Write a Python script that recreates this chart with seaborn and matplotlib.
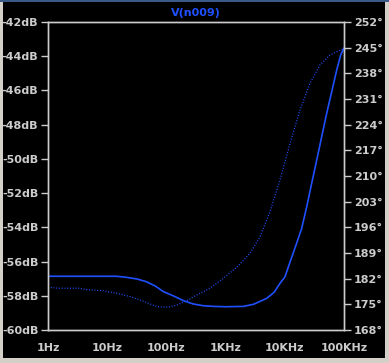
import numpy as np
import pandas as pd
import matplotlib
matplotlib.use("Agg")
import matplotlib.pyplot as plt
import seaborn as sns
from matplotlib.patches import Rectangle
from matplotlib.ticker import FixedLocator, NullFormatter

# ---- data ----
mag_freq = [1, 10, 14.5, 21, 32, 46, 65, 89, 132, 195, 285, 417, 617, 1000, 2000,
            2950, 4940, 6600, 8300, 10070, 12250, 15850, 19280, 23440, 28440, 34600,
            42000, 51000, 62000, 75300, 87900, 100000]
mag_db = [-56.86, -56.86, -56.86, -56.92, -57.02, -57.18, -57.43, -57.76, -58.01,
          -58.29, -58.48, -58.58, -58.62, -58.64, -58.62, -58.50, -58.15, -57.80,
          -57.27, -56.89, -56.03, -54.93, -54.06, -52.80, -51.43, -50.07, -48.70,
          -47.34, -46.07, -44.81, -43.93, -43.52]

ph_freq = [1, 1.5, 3.5, 3.9, 8.6, 14.5, 24.3, 35.8, 52.8, 68.5, 107.6, 149, 220, 325,
           545, 914, 1640, 2600, 3810, 5620, 8300, 12250, 18070, 26670, 39400, 58100,
           75300, 100000]
ph_deg = [179.65, 179.4, 179.4, 179.1, 178.7, 178.0, 177.1, 176.2, 175.1, 174.4,
          174.2, 174.8, 176.0, 177.55, 179.4, 182.1, 185.5, 189.0, 193.4, 200.3, 208.9,
          218.9, 228.0, 235.3, 240.3, 243.0, 243.9, 244.8]

x_ticks = [1, 10, 100, 1000, 10000, 100000]
x_labels = ["1Hz", "10Hz", "100Hz", "1KHz", "10KHz", "100KHz"]
db_ticks = list(range(-60, -41, 2))
deg_ticks = list(range(168, 253, 7))
title = "V(n009)"

# ---- style ----
W, H = 389, 363
fg = "#cccccc"
blue = "#1f50ff"
sns.set_style("dark")
plt.rcParams["font.family"] = ["DejaVu Sans"]

fig = plt.figure(figsize=(W / 100, H / 100), dpi=100)
fig.patch.set_facecolor("#d4d0c8")
fig.patches.append(Rectangle((3 / W, 1 - 358 / H), (385 - 3) / W, (358 - 2) / H,
                             transform=fig.transFigure, facecolor="black",
                             edgecolor="none", zorder=-5))
fig.patches.append(Rectangle((0, 1 - 2 / H), 1, 2 / H, transform=fig.transFigure,
                             facecolor="#3a5a8a", edgecolor="none", zorder=-5))

L, R, T, B = 48, 344, 22, 330
ax = fig.add_axes([L / W, 1 - B / H, (R - L) / W, (B - T) / H])
ax.set_facecolor("black")
ax2 = ax.twinx()

df_mag = pd.DataFrame({"f": mag_freq, "v": mag_db})
df_ph = pd.DataFrame({"f": ph_freq, "v": ph_deg})

sns.lineplot(data=df_mag, x="f", y="v", ax=ax, color=blue, lw=1.2, sort=False)
sns.lineplot(data=df_ph, x="f", y="v", ax=ax2, color=blue, lw=0.9, sort=False,
             dashes=False)
ax2.lines[0].set_linestyle((0, (0.8, 1.4)))

for a in (ax, ax2):
    a.set_xscale("log")
    a.set_xlim(1, 100000)
    a.set_xlabel("")
    a.set_ylabel("")
    a.grid(False)
    for s in a.spines.values():
        s.set_visible(True)
        s.set_color(fg)
        s.set_linewidth(1.0)

ax.set_ylim(-60, -42)
ax2.set_ylim(168, 252)

ax.xaxis.set_major_locator(FixedLocator(x_ticks))
ax.set_xticklabels(x_labels)
minors = [m * d for d in x_ticks[:-1] for m in range(2, 10)]
ax.xaxis.set_minor_locator(FixedLocator(minors))
ax.xaxis.set_minor_formatter(NullFormatter())
ax.tick_params(axis="x", which="major", direction="in", length=5, width=1,
               color=fg, labelcolor=fg, labelsize=8, pad=9.5)
ax.tick_params(axis="x", which="minor", direction="in", length=3, width=1, color=fg)

ax.set_yticks(db_ticks)
ax.set_yticklabels([f"{v}dB" for v in db_ticks])
ax.tick_params(axis="y", which="both", direction="out", length=5, width=1,
               color=fg, labelcolor=fg, labelsize=8, pad=2, left=True)
ax.yaxis.set_minor_locator(FixedLocator([]))

ax2.set_yticks(deg_ticks)
ax2.set_yticklabels([f"{v}°" for v in deg_ticks])
ax2.tick_params(axis="y", which="both", direction="out", length=5, width=1,
                color=fg, labelcolor=fg, labelsize=8, pad=2, right=True)
ax2.yaxis.set_minor_locator(FixedLocator([]))

for lab in ax.get_xticklabels() + ax.get_yticklabels() + ax2.get_yticklabels():
    lab.set_fontweight("bold")

ax.set_title(title, color=blue, fontsize=8, fontweight="bold", pad=4)

fig.savefig("out.png", dpi=100, facecolor=fig.get_facecolor())
